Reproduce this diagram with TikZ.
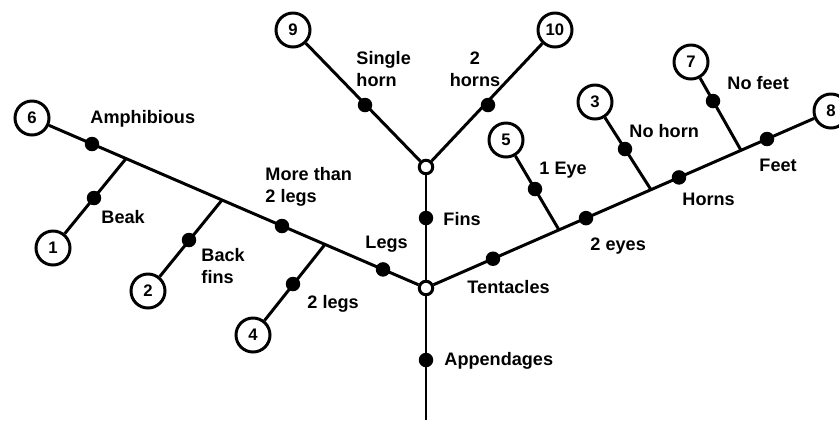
\documentclass[tikz,border=0pt]{standalone}
\usepackage{fontspec}
\setmainfont{Liberation Sans}
\usepackage{tikz}
\tikzstyle{leaf}=[circle,draw=black,fill=white,inner sep=0mm,minimum size=6.8mm,font=\fontsize{9.5}{11}\selectfont\bfseries]
\tikzstyle{trait}=[circle,fill=black,inner sep=0mm,minimum size=2.9mm]
\tikzstyle{fork}=[circle,draw=black,fill=white,inner sep=0mm,minimum size=2.7mm]
\tikzstyle{lbl}=[anchor=base west,inner sep=0mm,align=left,font=\fontsize{10.3}{12.5}\selectfont\bfseries]
\tikzset{every picture/.style={
    line width=1.7pt
  }
}

\begin{document}
\begin{tikzpicture}[x=0.2mm,y=-0.2mm]
      \useasboundingbox (0,0) rectangle (839,420);
      \node[fork] at (426,288) (root) {};
      \node[fork] at (426,167) (top) {};
      \coordinate (end) at (426,420);
      \coordinate (b1) at (126,158.6);
      \coordinate (b2) at (222,200);
      \coordinate (b3) at (325,244.4);
      \coordinate (b4) at (559,229.9);
      \coordinate (b5) at (651,189.7);
      \coordinate (b6) at (741,150.3);
      \node[leaf] at (53,248) (n1) {1};
      \node[leaf] at (148,291) (n2) {2};
      \node[leaf] at (595,102) (n3) {3};
      \node[leaf] at (253,335) (n4) {4};
      \node[leaf] at (506,140) (n5) {5};
      \node[leaf] at (32,118) (n6) {6};
      \node[leaf] at (691,62) (n7) {7};
      \node[leaf] at (831,111) (n8) {8};
      \node[leaf] at (293,30) (n9) {9};
      \node[leaf] at (555,30) (n10) {10};
      \node[trait] at (92,144) (d6) {};
      \node[trait] at (94,198) (d1) {};
      \node[trait] at (189,240) (d2) {};
      \node[trait] at (282,226) (dmore) {};
      \node[trait] at (293,284) (d4) {};
      \node[trait] at (383,269.4) (dlegs) {};
      \node[trait] at (426,218) (dfins) {};
      \node[trait] at (426,360) (dapp) {};
      \node[trait] at (365,105) (d9) {};
      \node[trait] at (488,105) (d10) {};
      \node[trait] at (493,258.7) (dtent) {};
      \node[trait] at (535,189) (d5) {};
      \node[trait] at (586,218.1) (deyes) {};
      \node[trait] at (625,149) (d3) {};
      \node[trait] at (679,177.4) (dhorns) {};
      \node[trait] at (713,101) (d7) {};
      \node[trait] at (767,139) (dfeet) {};
      \draw (root)--(n6);
      \draw (root)--(n8);
      \draw (root)--(top);
      \draw (root)--(end);
      \draw (top)--(n9);
      \draw (top)--(n10);
      \draw (b1)--(n1);
      \draw (b2)--(n2);
      \draw (b3)--(n4);
      \draw (b4)--(n5);
      \draw (b5)--(n3);
      \draw (b6)--(n7);
      \node[lbl] at (89,123) (l6) {Amphibious};
      \node[lbl] at (100,223) (l1) {Beak};
      \node[lbl] at (200,283) (l2) {Back\\fins};
      \node[lbl] at (264,202) (lmore) {More than\\2 legs};
      \node[lbl] at (306,308) (l4) {2 legs};
      \node[lbl] at (364,248) (llegs) {Legs};
      \node[lbl] at (355,86) (l9) {Single\\horn};
      \node[lbl,anchor=base,align=center] at (475,86) (l10) {2\\horns};
      \node[lbl] at (442,225) (lfins) {Fins};
      \node[lbl] at (443,365) (lapp) {Appendages};
      \node[lbl] at (466,293) (ltent) {Tentacles};
      \node[lbl] at (538,174) (l5) {1 Eye};
      \node[lbl] at (589,250) (leyes) {2 eyes};
      \node[lbl] at (628,137) (l3) {No horn};
      \node[lbl] at (681,205) (lhorns) {Horns};
      \node[lbl] at (726,89) (l7) {No feet};
      \node[lbl] at (758,171) (lfeet) {Feet};
    \end{tikzpicture}
\end{document}
